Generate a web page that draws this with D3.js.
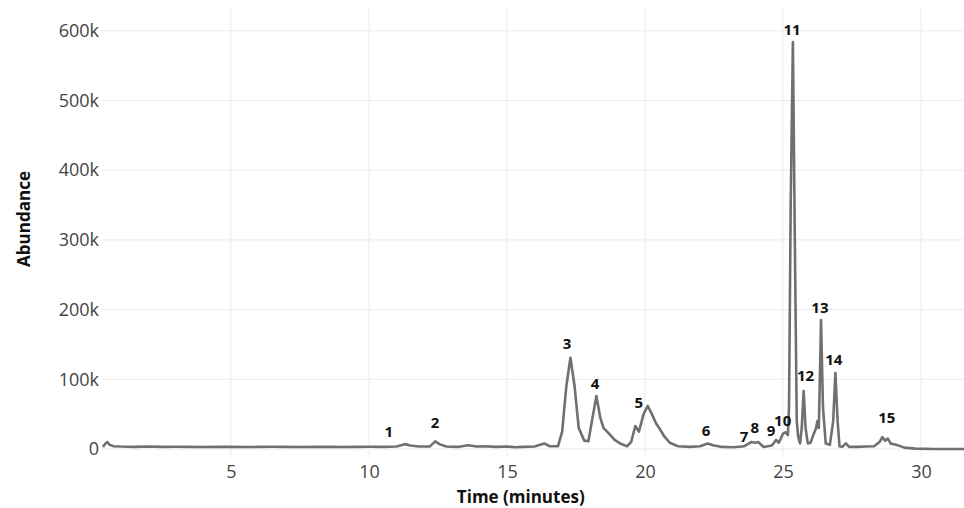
<!DOCTYPE html>
<html>
<head>
<meta charset="utf-8">
<script src="https://cdn.jsdelivr.net/npm/d3@7"></script>
<style>
  body { margin: 0; background: #fff; }
  svg { display: block; }
</style>
</head>
<body>
<svg id="chart" width="964" height="508"></svg>
<script>
// retention time (minutes) and abundance (thousands)
var times = [0.36, 0.45, 0.52, 0.6, 0.75, 1.0, 1.5, 2.0, 2.5, 3.0, 3.5, 4.0, 4.5, 5.0, 5.5, 6.0, 6.5, 7.0, 7.5, 8.0,
    8.5, 9.0, 9.5, 10.0, 10.5, 11.0, 11.3, 11.5, 11.8, 12.2, 12.4, 12.55, 12.8, 13.2, 13.6, 13.9, 14.2, 14.6, 15.0, 15.3,
    15.6, 16.0, 16.35, 16.55, 16.85, 17.0, 17.15, 17.3, 17.45, 17.6, 17.8, 17.95, 18.1, 18.24, 18.38, 18.5, 18.7, 18.9, 19.1, 19.35,
    19.5, 19.65, 19.78, 19.95, 20.1, 20.25, 20.4, 20.55, 20.7, 20.9, 21.2, 21.6, 22.0, 22.27, 22.5, 22.8, 23.2, 23.6, 23.85, 24.0,
    24.1, 24.3, 24.6, 24.75, 24.85, 25.0, 25.1, 25.18, 25.22, 25.28, 25.36, 25.43, 25.5, 25.55, 25.62, 25.68, 25.75, 25.82, 25.9, 26.0,
    26.1, 26.2, 26.25, 26.3, 26.38, 26.45, 26.55, 26.7, 26.82, 26.9, 26.98, 27.05, 27.15, 27.28, 27.4, 27.7, 28.0, 28.3, 28.5, 28.6,
    28.7, 28.8, 28.9, 29.1, 29.4, 29.8, 30.5, 31.0, 31.6];
var abundanceK = [3, 8, 10, 6, 4, 3.5, 3, 3.5, 3, 3.2, 3, 2.8, 3.2, 3, 2.8, 3, 3.2, 3, 2.8, 3,
    3.2, 2.8, 3, 3.2, 3, 3.5, 7, 5, 3.5, 3.5, 11, 7, 3.5, 3, 5.5, 3.5, 4, 3, 3.5, 2.5,
    3, 3.5, 8, 4, 4, 25, 90, 131, 90, 30, 12, 11, 45, 76, 45, 30, 22, 13, 8, 4,
    10, 33, 25, 50, 62, 50, 37, 28, 18, 9, 4, 3, 4, 8, 5, 3, 2.5, 4, 10, 9,
    10, 3, 5, 13, 9, 22, 24, 20, 60, 350, 584, 300, 40, 18, 8, 30, 83, 30, 8, 9,
    20, 30, 40, 30, 185, 60, 8, 6, 40, 109, 40, 4, 3, 8, 3, 3, 3.5, 4, 10, 17,
    12, 15, 8, 6, 2, 0.5, 0, 0, 0];

// peak numbers and where their labels sit (time, abundance in thousands)
var peakNames = ["1", "2", "3", "4", "5", "6", "7", "8", "9", "10", "11", "12", "13", "14", "15"];
var peakLabelTimes = [10.72, 12.39, 17.18, 18.19, 19.78, 22.21, 23.59, 23.98, 24.57, 24.99, 25.33, 25.82, 26.34, 26.84, 28.76];
var peakLabelK = [26, 39, 152, 95, 67, 27, 19, 32, 27, 41, 602, 106, 204, 129, 46];

var xTicks = [5, 10, 15, 20, 25, 30];
var yTicks = [0, 100, 200, 300, 400, 500, 600];

var svg = d3.select("#chart");

var margin = {top: 8, right: 0, bottom: 50, left: 102},
    width = 964 - margin.left - margin.right,
    height = 508 - margin.top - margin.bottom;

var x = d3.scaleLinear().domain([0.326, 31.56]).range([margin.left, margin.left + width]);
var y = d3.scaleLinear().domain([-12.9, 632.7]).range([margin.top + height, margin.top]);

// grid
svg.append("g")
    .selectAll("line")
    .data(xTicks)
    .enter().append("line")
    .attr("x1", function (d) { return x(d); })
    .attr("x2", function (d) { return x(d); })
    .attr("y1", margin.top)
    .attr("y2", margin.top + height)
    .attr("stroke", "#ebebeb")
    .attr("stroke-width", 1);

svg.append("g")
    .selectAll("line")
    .data(yTicks)
    .enter().append("line")
    .attr("x1", margin.left)
    .attr("x2", margin.left + width)
    .attr("y1", function (d) { return y(d); })
    .attr("y2", function (d) { return y(d); })
    .attr("stroke", "#ebebeb")
    .attr("stroke-width", 1);

// axes (labels only, no domain line)
var xAxis = svg.append("g")
    .attr("transform", "translate(0," + (margin.top + height) + ")")
    .call(d3.axisBottom(x).tickValues(xTicks).tickSize(0).tickPadding(7));
var yAxis = svg.append("g")
    .attr("transform", "translate(" + (margin.left - 3) + ",0)")
    .call(d3.axisLeft(y).tickValues(yTicks).tickSize(0).tickPadding(0)
        .tickFormat(function (d) { return d === 0 ? "0" : d + "k"; }));

[xAxis, yAxis].forEach(function (a) {
    a.select(".domain").remove();
    a.selectAll("text")
        .attr("fill", "#444")
        .style("font-family", "'Open Sans', sans-serif")
        .style("font-size", "18px");
});

// trace
var points = times.map(function (t, i) { return [t, abundanceK[i]]; });
var line = d3.line()
    .x(function (d) { return x(d[0]); })
    .y(function (d) { return y(d[1]); });

svg.append("path")
    .datum(points)
    .attr("fill", "none")
    .attr("stroke", "#707070")
    .attr("stroke-width", 2.6)
    .attr("stroke-linejoin", "round")
    .attr("d", line);

// peak labels
svg.append("g")
    .selectAll("text")
    .data(peakNames)
    .enter().append("text")
    .attr("x", function (d, i) { return x(peakLabelTimes[i]); })
    .attr("y", function (d, i) { return y(peakLabelK[i]); })
    .attr("text-anchor", "middle")
    .attr("dominant-baseline", "central")
    .style("font-family", "'Open Sans', sans-serif")
    .style("font-weight", "bold")
    .style("font-size", "15px")
    .attr("fill", "#111")
    .text(function (d) { return d; });

// axis titles
svg.append("text")
    .attr("x", x(15.5))
    .attr("y", 496)
    .attr("text-anchor", "middle")
    .attr("dominant-baseline", "central")
    .style("font-family", "'Open Sans', sans-serif")
    .style("font-weight", "bold")
    .style("font-size", "17px")
    .attr("fill", "#111")
    .text("Time (minutes)");

svg.append("text")
    .attr("transform", "translate(23," + y(330) + ") rotate(-90)")
    .attr("text-anchor", "middle")
    .attr("dominant-baseline", "central")
    .style("font-family", "'Open Sans', sans-serif")
    .style("font-weight", "bold")
    .style("font-size", "17px")
    .attr("fill", "#111")
    .text("Abundance");
</script>
</body>
</html>
